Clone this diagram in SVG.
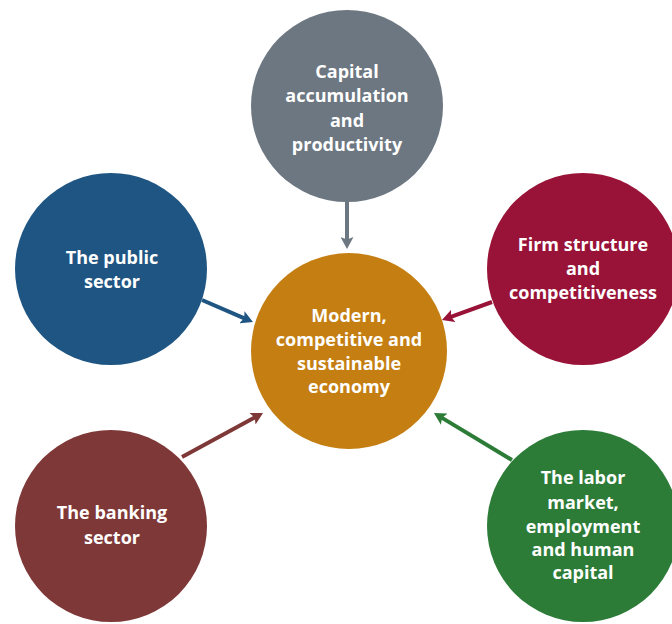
<svg xmlns="http://www.w3.org/2000/svg" width="672" height="624" viewBox="0 0 672 624">
  <style>
    .lbl { font-family: "Open Sans", Lato, "Liberation Sans", sans-serif; font-weight: bold; font-size: 18px; fill: #ffffff; text-anchor: middle; }
    .conn { fill: none; stroke-width: 4; }
  </style>
  <defs>
    <marker id="head-gray" viewBox="0 0 12 13" refX="4" refY="6.5" markerWidth="12" markerHeight="13" markerUnits="userSpaceOnUse" orient="auto">
      <path d="M0,0 L12,6.5 L0,13 L2.5,6.5 z" fill="#6D7781"/>
    </marker>
    <marker id="head-blue" viewBox="0 0 12 13" refX="4" refY="6.5" markerWidth="12" markerHeight="13" markerUnits="userSpaceOnUse" orient="auto">
      <path d="M0,0 L12,6.5 L0,13 L2.5,6.5 z" fill="#1F5582"/>
    </marker>
    <marker id="head-crimson" viewBox="0 0 12 13" refX="4" refY="6.5" markerWidth="12" markerHeight="13" markerUnits="userSpaceOnUse" orient="auto">
      <path d="M0,0 L12,6.5 L0,13 L2.5,6.5 z" fill="#981337"/>
    </marker>
    <marker id="head-brown" viewBox="0 0 12 13" refX="4" refY="6.5" markerWidth="12" markerHeight="13" markerUnits="userSpaceOnUse" orient="auto">
      <path d="M0,0 L12,6.5 L0,13 L2.5,6.5 z" fill="#7F3838"/>
    </marker>
    <marker id="head-green" viewBox="0 0 12 13" refX="4" refY="6.5" markerWidth="12" markerHeight="13" markerUnits="userSpaceOnUse" orient="auto">
      <path d="M0,0 L12,6.5 L0,13 L2.5,6.5 z" fill="#2C7C38"/>
    </marker>
  </defs>
  <rect width="672" height="624" fill="#ffffff"/>

  <g id="node-center">
    <circle cx="349" cy="351" r="98" fill="#C47E12"/>
    <text class="lbl" x="349" y="322">Modern,</text>
    <text class="lbl" x="349" y="346">competitive and</text>
    <text class="lbl" x="349" y="370">sustainable</text>
    <text class="lbl" x="349" y="393">economy</text>
  </g>

  <g id="node-capital">
    <circle cx="347" cy="106" r="96" fill="#6D7781"/>
    <text class="lbl" x="347" y="78">Capital</text>
    <text class="lbl" x="347" y="102">accumulation</text>
    <text class="lbl" x="347" y="127">and</text>
    <text class="lbl" x="347" y="151">productivity</text>
  </g>

  <g id="node-public">
    <circle cx="111" cy="269" r="96" fill="#1F5582"/>
    <text class="lbl" x="112" y="264">The public</text>
    <text class="lbl" x="112" y="288">sector</text>
  </g>

  <g id="node-firm">
    <circle cx="583" cy="269" r="96" fill="#981337"/>
    <text class="lbl" x="583" y="251">Firm structure</text>
    <text class="lbl" x="583" y="275">and</text>
    <text class="lbl" x="583" y="299">competitiveness</text>
  </g>

  <g id="node-banking">
    <circle cx="111" cy="526" r="96" fill="#7F3838"/>
    <text class="lbl" x="112" y="519">The banking</text>
    <text class="lbl" x="112" y="544">sector</text>
  </g>

  <g id="node-labor">
    <circle cx="583" cy="526" r="96" fill="#2C7C38"/>
    <text class="lbl" x="583" y="484">The labor</text>
    <text class="lbl" x="583" y="509">market,</text>
    <text class="lbl" x="583" y="533">employment</text>
    <text class="lbl" x="583" y="556">and human</text>
    <text class="lbl" x="583" y="579">capital</text>
  </g>

  <g id="connectors">
    <line class="conn" x1="347" y1="202" x2="347" y2="241" stroke="#6D7781" marker-end="url(#head-gray)"/>
    <line class="conn" x1="202" y1="300" x2="245.6" y2="318.8" stroke="#1F5582" marker-end="url(#head-blue)"/>
    <line class="conn" x1="492" y1="302" x2="449.5" y2="317.3" stroke="#981337" marker-end="url(#head-crimson)"/>
    <line class="conn" x1="182" y1="457" x2="256" y2="416.8" stroke="#7F3838" marker-end="url(#head-brown)"/>
    <line class="conn" x1="512" y1="460" x2="440.8" y2="417.1" stroke="#2C7C38" marker-end="url(#head-green)"/>
  </g>
</svg>
